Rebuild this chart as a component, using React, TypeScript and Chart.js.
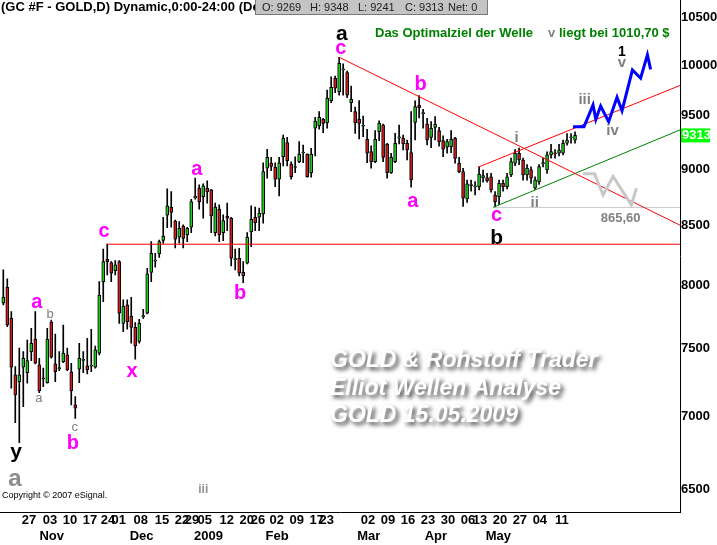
import React, { useEffect, useRef } from 'react';
import { Chart, registerables } from 'chart.js';

Chart.register(...registerables);

// ---------- Daily OHLC (GC #F, prices x10), 20 Oct 2008 .. 15 May 2009 ----------
const opens = [
  7853, 7981, 7733, 7301, 7251, 7358, 7318, 7476, 7570, 7376,
  7280, 7244, 7704, 7383, 7348, 7400, 7451, 7323, 7082, 7343,
  7410, 7368, 7366, 7358, 7464, 8027, 8212, 8184, 8117, 8192,
  7694, 7839, 7751, 7663, 7553, 7745, 7773, 8102, 8196, 8257,
  8371, 8588, 8658, 8537, 8397, 8494, 8417, 8483, 8740, 8826,
  8752, 8826, 8811, 8437, 8640, 8437, 8581, 8561, 8208, 8220,
  8104, 8179, 8445, 8570, 8570, 8599, 9007, 9053, 9017, 8907,
  9113, 9245, 9046, 9014, 9068, 9148, 9137, 8967, 9381, 9403,
  9466, 9434, 9648, 9870, 9737, 9955, 9926, 9629, 9541, 9466,
  9400, 9277, 9161, 9068, 9349, 9412, 9229, 8967, 9068, 9290,
  9286, 9239, 9152, 9437, 9603, 9522, 9422, 9295, 9390, 9358,
  9264, 9202, 9208, 9286, 9053, 8976, 8730, 8850, 8838, 8841,
  8920, 8920, 8930, 8766, 8752, 8871, 8841, 8946, 9053, 9146,
  9083, 8946, 8992, 8826, 8886, 9050, 8992, 9130, 9150, 9146,
  9146, 9239, 9290, 9269,
];
const highs = [
  8123, 8049, 7786, 7363, 7502, 7476, 7565, 7655, 7786, 7426,
  7351, 7655, 7720, 7611, 7476, 7681, 7502, 7388, 7142, 7540,
  7476, 7578, 7648, 7519, 8027, 8296, 8340, 8192, 8200, 8200,
  7879, 7879, 7900, 7699, 7725, 7805, 8137, 8360, 8262, 8374,
  8570, 8820, 8796, 8546, 8532, 8503, 8483, 8728, 8917, 8856,
  8865, 8894, 8817, 8693, 8678, 8590, 8693, 8570, 8296, 8304,
  8192, 8437, 8669, 8658, 8649, 9057, 9183, 9107, 9057, 9107,
  9317, 9295, 9067, 9113, 9255, 9223, 9140, 9192, 9485, 9541,
  9476, 9753, 9885, 9893, 10083, 10016, 9943, 9792, 9584, 9648,
  9498, 9371, 9214, 9358, 9453, 9422, 9239, 9146, 9333, 9412,
  9317, 9270, 9541, 9645, 9697, 9564, 9475, 9444, 9492, 9390,
  9308, 9277, 9358, 9295, 9107, 9007, 8900, 8900, 8886, 9020,
  8990, 8960, 8960, 8796, 8900, 8900, 8960, 9100, 9180, 9195,
  9100, 9040, 9020, 8930, 9040, 9100, 9160, 9230, 9180, 9230,
  9270, 9330, 9330, 9348,
];
const lows = [
  7839, 7668, 7203, 6955, 6815, 7070, 7240, 7408, 7383, 7171,
  7214, 7240, 7426, 7251, 7333, 7393, 7333, 7082, 6986, 7244,
  7318, 7309, 7325, 7351, 7451, 7865, 8082, 8027, 8082, 7694,
  7629, 7648, 7540, 7418, 7540, 7733, 7768, 8027, 8145, 8227,
  8345, 8480, 8483, 8306, 8346, 8306, 8360, 8437, 8728, 8640,
  8561, 8693, 8437, 8408, 8360, 8368, 8454, 8156, 8123, 8074,
  8019, 8173, 8318, 8454, 8454, 8518, 8917, 8986, 8841, 8757,
  9028, 9028, 8907, 8967, 9058, 9058, 8925, 8925, 9120, 9372,
  9340, 9381, 9628, 9727, 9703, 9701, 9676, 9541, 9333, 9279,
  9302, 9058, 9007, 9058, 9264, 9068, 8917, 8961, 9058, 9232,
  9176, 9083, 8836, 9270, 9480, 9381, 9223, 9198, 9270, 9211,
  9115, 9146, 9152, 9053, 8967, 8664, 8700, 8800, 8766, 8811,
  8880, 8880, 8790, 8656, 8680, 8800, 8820, 8930, 9030, 9040,
  8900, 8900, 8870, 8815, 8860, 9020, 8960, 9100, 9100, 9120,
  9130, 9220, 9240, 9241,
];
const closes = [
  7901, 7681, 7358, 7154, 7301, 7426, 7408, 7540, 7388, 7185,
  7272, 7570, 7433, 7325, 7352, 7464, 7338, 7185, 7058, 7426,
  7416, 7338, 7370, 7489, 7919, 8192, 8192, 8096, 8165, 7773,
  7831, 7707, 7663, 7519, 7694, 7755, 8090, 8262, 8204, 8360,
  8408, 8669, 8611, 8380, 8474, 8388, 8474, 8707, 8755, 8707,
  8847, 8796, 8581, 8658, 8417, 8540, 8561, 8220, 8215, 8096,
  8076, 8397, 8552, 8523, 8605, 8976, 9107, 9023, 8907, 9057,
  9286, 9077, 8931, 9020, 9137, 9155, 8931, 9137, 9450, 9485,
  9428, 9672, 9780, 9770, 10021, 9963, 9701, 9662, 9434, 9428,
  9406, 9146, 9068, 9277, 9428, 9107, 8967, 9107, 9239, 9298,
  9232, 9176, 8901, 9590, 9580, 9528, 9270, 9381, 9422, 9255,
  9183, 9255, 9277, 9098, 8976, 8737, 8865, 8860, 8845, 8955,
  8940, 8895, 8811, 8707, 8871, 8841, 8930, 9068, 9146, 9083,
  8946, 9010, 8916, 8901, 9023, 9058, 9130, 9161, 9140, 9176,
  9239, 9270, 9300, 9313,
];

// ---------- axis labels ----------
const priceTicks = [6500, 7000, 7500, 8000, 8500, 9000, 9500, 10000, 10500];
const dayTickIdx = [6.4, 11.7, 16.7, 21.7, 26.2, 28.9, 34.4, 39.7, 44.7, 47.2, 50.4, 55.9, 60.9, 63.7,
  68.4, 73.4, 78.4, 80.9, 91.2, 96.2, 101.2, 106.2, 111.2, 116.2, 119.2, 124.2, 129.2, 134.2, 139.7];
const dayTickLabels = ['27', '03', '10', '17', '24', '01', '08', '15', '22', '29', '05', '12', '20', '26',
  '02', '09', '17', '23', '02', '09', '16', '23', '30', '06', '13', '20', '27', '04', '11'];
const monthTickIdx = [12.1, 34.6, 51.3, 68.5, 91.4, 108.2, 123.8];
const monthLabels = ['Nov', 'Dec', '2009', 'Feb', 'Mar', 'Apr', 'May'];

// ---------- trend lines and projections (bar index, price) ----------
const cLevelIdx = [25.9, 169.25];
const cLevelVal = [8338, 8338];
const downTrendIdx = [84, 169.25];
const downTrendVal = [10083, 8501];
const upperChannelIdx = [118.75, 169.25];
const upperChannelVal = [9017, 9798];
const lowerChannelIdx = [122.5, 169.25];
const lowerChannelVal = [8656, 9365];
const supportIdx = [122.5, 169.25];
const supportVal = [8656, 8656];
const altPathIdx = [145, 147.9, 150, 152.5, 157.1, 158.35];
const altPathVal = [8956, 8956, 8766, 8932, 8678, 8826];
const mainPathIdx = [142.5, 145.25, 147.5, 148.2, 149.4, 151.4, 153.5, 154.75, 157.35, 159.4, 161.1, 161.9];
const mainPathVal = [9396, 9396, 9606, 9467, 9596, 9444, 9681, 9550, 9953, 9870, 10107, 9960];

// ---------- wave labels (bar index, price) ----------
const magentaText = ['a', 'b', 'c', 'x', 'a', 'b', 'c', 'b', 'a', 'c'];
const magentaIdx = [8.4, 17.4, 25.2, 32.2, 48.4, 59.2, 84.4, 104.4, 102.4, 123.4];
const magentaVal = [7859, 6820, 8443, 7323, 8996, 7943, 10178, 9823, 8704, 8581];
const blackText = ['y', 'a', 'b'];
const blackIdx = [3.2, 84.7, 123.4];
const blackVal = [6732, 10324, 8408];
const degreeText = ['1'];
const degreeIdx = [154.7];
const degreeVal = [10148];
const subText = ['b', 'a', 'c'];
const subIdx = [11.7, 8.9, 17.9];
const subVal = [7775, 7125, 6918];
const bigGrayText = ['a'];
const bigGrayIdx = [2.9];
const bigGrayVal = [6568];
const romanText = ['i', 'ii', 'iii', 'iv', 'v'];
const romanIdx = [128.4, 132.9, 145.4, 152.4, 154.7];
const romanVal = [9301, 8704, 9670, 9365, 10024];
const romanLowText = ['iii'];
const romanLowIdx = [50];
const romanLowVal = [6505];
const supportLabel = ['865,60'];
const supportLabelIdx = [154.4];
const supportLabelVal = [8559];

const FONT = "'Liberation Sans', Arial, sans-serif";
const NARROW = "'Liberation Sans Narrow', 'Liberation Sans', Arial, sans-serif";
const GREEN = '#22c822';
const RED = '#c81e1e';

const pts = (xs: number[], ys: number[]) => xs.map((x, i) => ({ x, y: ys[i] }));

function drawCentered(ctx: any, text: string, cx: number, cy: number) {
  const m = ctx.measureText(text);
  const yb = cy + (m.actualBoundingBoxAscent - m.actualBoundingBoxDescent) / 2;
  ctx.fillText(text, cx, yb);
}

function drawGroup(ctx: any, xs: any, ys: any, texts: string[], idx: number[], val: number[], font: string, color: string) {
  ctx.font = font;
  ctx.fillStyle = color;
  ctx.textAlign = 'center';
  ctx.textBaseline = 'alphabetic';
  texts.forEach((t, i) => drawCentered(ctx, t, xs.getPixelForValue(idx[i]), ys.getPixelForValue(val[i])));
}

const overlay = {
  id: 'overlay',
  afterDatasetsDraw(chart: any) {
    const { ctx, chartArea: ca } = chart;
    const xs = chart.scales.x;
    const ys = chart.scales.y;
    ctx.save();
    ctx.beginPath();
    ctx.rect(ca.left, ca.top, ca.right - ca.left, ca.bottom - ca.top);
    ctx.clip();
    drawGroup(ctx, xs, ys, magentaText, magentaIdx, magentaVal, `bold 20px ${FONT}`, '#ff00ff');
    drawGroup(ctx, xs, ys, blackText, blackIdx, blackVal, `bold 21px ${FONT}`, '#000000');
    drawGroup(ctx, xs, ys, degreeText, degreeIdx, degreeVal, `bold 14px ${FONT}`, '#000000');
    drawGroup(ctx, xs, ys, subText, subIdx, subVal, `13px ${FONT}`, '#808080');
    drawGroup(ctx, xs, ys, bigGrayText, bigGrayIdx, bigGrayVal, `bold 24px ${FONT}`, '#8c8c8c');
    drawGroup(ctx, xs, ys, romanText, romanIdx, romanVal, `bold 15px ${FONT}`, '#808080');
    drawGroup(ctx, xs, ys, romanLowText, romanLowIdx, romanLowVal, `bold 12px ${FONT}`, '#909090');
    drawGroup(ctx, xs, ys, supportLabel, supportLabelIdx, supportLabelVal, `bold 13px ${FONT}`, '#808080');

    // watermark
    ctx.font = `italic bold 23px ${FONT}`;
    ctx.textAlign = 'left';
    ctx.textBaseline = 'alphabetic';
    ctx.shadowColor = 'rgba(40,40,40,0.85)';
    ctx.shadowBlur = 4;
    ctx.shadowOffsetX = 3;
    ctx.shadowOffsetY = 3;
    ctx.fillStyle = '#ffffff';
    ctx.fillText('GOLD & Rohstoff Trader', 330, 366.5);
    ctx.fillText('Elliot Wellen Analyse', 330, 394.5);
    ctx.fillText('GOLD 15.05.2009', 330, 421.5);
    ctx.restore();
  },
  afterDraw(chart: any) {
    const { ctx, chartArea: ca } = chart;
    const xs = chart.scales.x;
    const ys = chart.scales.y;
    ctx.save();
    // month labels
    ctx.font = `bold 13px ${NARROW}`;
    ctx.fillStyle = '#000';
    ctx.textAlign = 'center';
    ctx.textBaseline = 'middle';
    monthLabels.forEach((m, i) => ctx.fillText(m, xs.getPixelForValue(monthTickIdx[i]), ca.bottom + 23.5));

    // last price tag
    const last = closes[closes.length - 1];
    const py = ys.getPixelForValue(last);
    ctx.fillStyle = '#00ff00';
    ctx.fillRect(ca.right + 1, py - 7, 29, 14);
    ctx.fillStyle = '#ffffff';
    ctx.font = `bold 13px ${NARROW}`;
    ctx.textAlign = 'left';
    ctx.fillText(String(last), ca.right + 2, py);

    // header
    ctx.fillStyle = '#000';
    ctx.font = `bold 13px ${FONT}`;
    ctx.textAlign = 'left';
    ctx.textBaseline = 'middle';
    ctx.fillText('(GC #F - GOLD,D) Dynamic,0:00-24:00 (Dec)', 1, 7.5);
    ctx.fillStyle = '#c4c4c4';
    ctx.fillRect(255, 0, 233, 15);
    ctx.strokeStyle = '#7a7a7a';
    ctx.lineWidth = 1;
    ctx.strokeRect(255.5, -0.5, 232, 15);
    ctx.fillStyle = '#202020';
    ctx.font = `11px ${FONT}`;
    const box = [['O: 9269', 262], ['H: 9348', 310], ['L: 9241', 358], ['C: 9313', 405], ['Net: 0', 448]];
    box.forEach(([t, x]) => ctx.fillText(t as string, x as number, 8));

    // target text
    ctx.textBaseline = 'alphabetic';
    ctx.font = `bold 13px ${FONT}`;
    ctx.fillStyle = '#008000';
    ctx.fillText('Das Optimalziel der Welle', 375, 36.5);
    ctx.fillStyle = '#808080';
    ctx.fillText('v', 548, 36.5);
    ctx.fillStyle = '#008000';
    ctx.fillText('liegt bei 1010,70 $', 559, 36.5);

    // copyright
    ctx.fillStyle = '#000';
    ctx.font = `9px ${FONT}`;
    ctx.textBaseline = 'middle';
    ctx.fillText('Copyright \u00a9 2007 eSignal.', 2, 496);
    ctx.restore();
  },
};

export default function App() {
  const ref = useRef<HTMLCanvasElement>(null);
  useEffect(() => {
    document.body.style.margin = '0';
    const ids = closes.map((_, i) => i);
    const wickData = ids.map((i) => ({ x: i, y: [lows[i], highs[i]] }));
    const bodyData = ids.map((i) => ({ x: i, y: [Math.min(opens[i], closes[i]), Math.max(opens[i], closes[i])] }));
    const bodyColors = ids.map((i) => (closes[i] >= opens[i] ? GREEN : RED));
    const lineDs = (data: any[], color: string, width: number, order: number) => ({
      type: 'line', data, borderColor: color, borderWidth: width, pointRadius: 0,
      tension: 0, fill: false, order, borderJoinStyle: 'miter',
    });
    const chart = new Chart(ref.current as HTMLCanvasElement, {
      type: 'bar',
      data: {
        datasets: [
          { type: 'bar', data: wickData, backgroundColor: '#000000', barThickness: 1, stack: 'c', order: 10, borderWidth: 0 },
          {
            type: 'bar', data: bodyData, backgroundColor: bodyColors, borderColor: '#000000', borderWidth: 1,
            borderSkipped: false, barThickness: 3, stack: 'c', order: 9, minBarLength: 1,
          },
          lineDs(pts(supportIdx, supportVal), '#c8c8c8', 1, 8),
          lineDs(pts(cLevelIdx, cLevelVal), '#ff0000', 1, 5),
          lineDs(pts(downTrendIdx, downTrendVal), '#ff0000', 1, 5),
          lineDs(pts(upperChannelIdx, upperChannelVal), '#ff0000', 1, 5),
          lineDs(pts(lowerChannelIdx, lowerChannelVal), '#008000', 1, 5),
          lineDs(pts(altPathIdx, altPathVal), '#c8c8c8', 3, 4),
          lineDs(pts(mainPathIdx, mainPathVal), '#0000ff', 3, 3),
        ] as any,
      },
      options: {
        animation: false,
        responsive: false,
        maintainAspectRatio: false,
        devicePixelRatio: 1,
        layout: { padding: 0 },
        plugins: { legend: { display: false }, tooltip: { enabled: false } },
        scales: {
          x: {
            type: 'linear', min: -0.825, max: 169.25, offset: false, stacked: true,
            grid: { display: false, drawTicks: false },
            border: { display: true, color: '#000', width: 1 },
            ticks: {
              autoSkip: false, maxRotation: 0, minRotation: 0, padding: 0, color: '#000',
              font: { family: NARROW, size: 13, weight: 'bold' },
              callback: (_v: any, i: number) => dayTickLabels[i],
            },
            afterBuildTicks: (s: any) => { s.ticks = dayTickIdx.map((v) => ({ value: v })); },
            afterFit: (s: any) => { s.height = 32.3; s.paddingLeft = 0; s.paddingRight = 0; },
          },
          y: {
            type: 'logarithmic', position: 'right', min: 6347, max: 10687, stacked: false,
            grid: { display: false, drawTicks: false },
            border: { display: true, color: '#000', width: 1 },
            ticks: {
              autoSkip: false, padding: 1, color: '#000',
              font: { family: NARROW, size: 13, weight: 'bold' },
              callback: (v: any) => String(v),
            },
            afterBuildTicks: (s: any) => { s.ticks = priceTicks.map((v) => ({ value: v })); },
            afterFit: (s: any) => { s.width = 37; s.paddingTop = 0; s.paddingBottom = 0; },
          },
        },
      } as any,
      plugins: [overlay],
    });
    return () => chart.destroy();
  }, []);
  return (
    <div style={{ width: 717, height: 545 }}>
      <canvas ref={ref} width={717} height={545} style={{ display: 'block', width: 717, height: 545 }} />
    </div>
  );
}
